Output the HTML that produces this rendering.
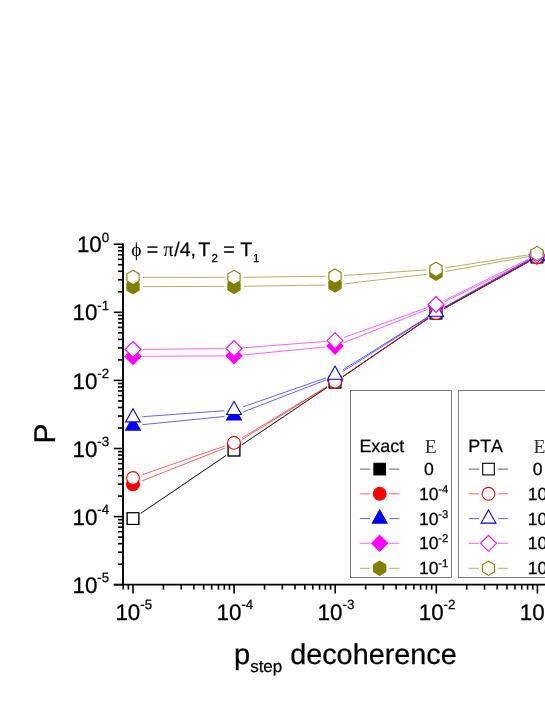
<!DOCTYPE html>
<html lang="en"><head><meta charset="utf-8"><title>chart</title>
<style>
html,body{margin:0;padding:0;background:#fff;}
body{width:545px;height:705px;overflow:hidden;}
svg{display:block;will-change:transform;}
.s{font-family:"Liberation Sans",sans-serif;fill:#000;text-rendering:geometricPrecision;font-kerning:none;stroke:#000;stroke-width:0.25px;}
.r{font-family:"Liberation Serif",serif;stroke:none;}
</style></head><body>
<svg width="545" height="705" viewBox="0 0 545 705">
<rect width="545" height="705" fill="#fff"/>
<line x1="140.86" y1="513.27" x2="226.14" y2="455.43" stroke="#000" stroke-width="0.62"/>
<line x1="241.88" y1="444.79" x2="327.12" y2="387.41" stroke="#000" stroke-width="0.62"/>
<line x1="342.84" y1="376.74" x2="428.16" y2="318.46" stroke="#000" stroke-width="0.62"/>
<line x1="444.30" y1="308.49" x2="528.70" y2="261.61" stroke="#000" stroke-width="0.62"/>
<rect x="127.20" y="512.80" width="11.60" height="11.60" stroke="#000" stroke-width="1.1" fill="#000"/>
<rect x="228.20" y="444.30" width="11.60" height="11.60" stroke="#000" stroke-width="1.1" fill="#000"/>
<rect x="329.20" y="376.30" width="11.60" height="11.60" stroke="#000" stroke-width="1.1" fill="#000"/>
<rect x="430.20" y="307.30" width="11.60" height="11.60" stroke="#000" stroke-width="1.1" fill="#000"/>
<rect x="531.20" y="251.20" width="11.60" height="11.60" stroke="#000" stroke-width="1.1" fill="#000"/>
<line x1="141.84" y1="480.91" x2="225.16" y2="447.99" stroke="#f00" stroke-width="0.62"/>
<line x1="242.08" y1="439.50" x2="326.92" y2="387.00" stroke="#f00" stroke-width="0.62"/>
<line x1="342.84" y1="376.64" x2="428.16" y2="318.36" stroke="#f00" stroke-width="0.62"/>
<line x1="444.31" y1="308.39" x2="528.69" y2="261.61" stroke="#f00" stroke-width="0.62"/>
<circle cx="133.00" cy="484.40" r="6.4" stroke="#f00" stroke-width="1.1" fill="#f00"/>
<circle cx="234.00" cy="444.50" r="6.4" stroke="#f00" stroke-width="1.1" fill="#f00"/>
<circle cx="335.00" cy="382.00" r="6.4" stroke="#f00" stroke-width="1.1" fill="#f00"/>
<circle cx="436.00" cy="313.00" r="6.4" stroke="#f00" stroke-width="1.1" fill="#f00"/>
<circle cx="537.00" cy="257.00" r="6.4" stroke="#f00" stroke-width="1.1" fill="#f00"/>
<line x1="142.45" y1="424.65" x2="224.55" y2="416.45" stroke="#00f" stroke-width="0.62"/>
<line x1="242.86" y1="412.08" x2="326.14" y2="379.92" stroke="#00f" stroke-width="0.62"/>
<line x1="343.02" y1="371.40" x2="427.98" y2="317.40" stroke="#00f" stroke-width="0.62"/>
<line x1="444.31" y1="307.69" x2="528.69" y2="260.91" stroke="#00f" stroke-width="0.62"/>
<polygon points="133.00,416.90 140.40,430.10 125.60,430.10" stroke="#00f" stroke-width="1.1" fill="#00f"/>
<polygon points="234.00,406.80 241.40,420.00 226.60,420.00" stroke="#00f" stroke-width="1.1" fill="#00f"/>
<polygon points="335.00,367.80 342.40,381.00 327.60,381.00" stroke="#00f" stroke-width="1.1" fill="#00f"/>
<polygon points="436.00,303.60 443.40,316.80 428.60,316.80" stroke="#00f" stroke-width="1.1" fill="#00f"/>
<polygon points="537.00,247.60 544.40,260.80 529.60,260.80" stroke="#00f" stroke-width="1.1" fill="#00f"/>
<line x1="142.50" y1="356.34" x2="224.50" y2="355.86" stroke="#f0f" stroke-width="0.62"/>
<line x1="243.46" y1="354.89" x2="325.54" y2="347.01" stroke="#f0f" stroke-width="0.62"/>
<line x1="343.83" y1="342.59" x2="427.17" y2="309.51" stroke="#f0f" stroke-width="0.62"/>
<line x1="444.53" y1="301.82" x2="528.47" y2="260.68" stroke="#f0f" stroke-width="0.62"/>
<polygon points="133.00,348.40 141.00,356.40 133.00,364.40 125.00,356.40" stroke="#f0f" stroke-width="1.1" fill="#f0f"/>
<polygon points="234.00,347.80 242.00,355.80 234.00,363.80 226.00,355.80" stroke="#f0f" stroke-width="1.1" fill="#f0f"/>
<polygon points="335.00,338.10 343.00,346.10 335.00,354.10 327.00,346.10" stroke="#f0f" stroke-width="1.1" fill="#f0f"/>
<polygon points="436.00,298.00 444.00,306.00 436.00,314.00 428.00,306.00" stroke="#f0f" stroke-width="1.1" fill="#f0f"/>
<polygon points="537.00,248.50 545.00,256.50 537.00,264.50 529.00,256.50" stroke="#f0f" stroke-width="1.1" fill="#f0f"/>
<line x1="142.50" y1="286.63" x2="224.50" y2="286.42" stroke="#808000" stroke-width="0.62"/>
<line x1="243.50" y1="286.26" x2="325.50" y2="285.04" stroke="#808000" stroke-width="0.62"/>
<line x1="344.44" y1="283.81" x2="426.56" y2="274.29" stroke="#808000" stroke-width="0.62"/>
<line x1="445.35" y1="271.52" x2="527.65" y2="256.68" stroke="#808000" stroke-width="0.62"/>
<polygon points="133.00,279.55 139.10,283.15 139.10,290.15 133.00,293.75 126.90,290.15 126.90,283.15" stroke="#808000" stroke-width="1.1" fill="#808000"/>
<polygon points="234.00,279.30 240.10,282.90 240.10,289.90 234.00,293.50 227.90,289.90 227.90,282.90" stroke="#808000" stroke-width="1.1" fill="#808000"/>
<polygon points="335.00,277.80 341.10,281.40 341.10,288.40 335.00,292.00 328.90,288.40 328.90,281.40" stroke="#808000" stroke-width="1.1" fill="#808000"/>
<polygon points="436.00,266.10 442.10,269.70 442.10,276.70 436.00,280.30 429.90,276.70 429.90,269.70" stroke="#808000" stroke-width="1.1" fill="#808000"/>
<polygon points="537.00,247.90 543.10,251.50 543.10,258.50 537.00,262.10 530.90,258.50 530.90,251.50" stroke="#808000" stroke-width="1.1" fill="#808000"/>
<line x1="140.86" y1="513.27" x2="226.14" y2="455.43" stroke="#000" stroke-width="0.62"/>
<line x1="241.88" y1="444.79" x2="327.12" y2="387.41" stroke="#000" stroke-width="0.62"/>
<line x1="342.84" y1="376.74" x2="428.16" y2="318.46" stroke="#000" stroke-width="0.62"/>
<line x1="444.30" y1="308.49" x2="528.70" y2="261.61" stroke="#000" stroke-width="0.62"/>
<rect x="127.20" y="512.80" width="11.60" height="11.60" stroke="#000" stroke-width="1.1" fill="#fff"/>
<rect x="228.20" y="444.30" width="11.60" height="11.60" stroke="#000" stroke-width="1.1" fill="#fff"/>
<rect x="329.20" y="376.30" width="11.60" height="11.60" stroke="#000" stroke-width="1.1" fill="#fff"/>
<rect x="430.20" y="307.30" width="11.60" height="11.60" stroke="#000" stroke-width="1.1" fill="#fff"/>
<rect x="531.20" y="251.20" width="11.60" height="11.60" stroke="#000" stroke-width="1.1" fill="#fff"/>
<line x1="141.97" y1="474.87" x2="225.03" y2="445.93" stroke="#f00" stroke-width="0.62"/>
<line x1="242.13" y1="437.88" x2="326.87" y2="386.62" stroke="#f00" stroke-width="0.62"/>
<line x1="342.86" y1="376.36" x2="428.14" y2="318.34" stroke="#f00" stroke-width="0.62"/>
<line x1="444.31" y1="308.39" x2="528.69" y2="261.61" stroke="#f00" stroke-width="0.62"/>
<circle cx="133.00" cy="478.00" r="6.4" stroke="#f00" stroke-width="1.1" fill="#fff"/>
<circle cx="234.00" cy="442.80" r="6.4" stroke="#f00" stroke-width="1.1" fill="#fff"/>
<circle cx="335.00" cy="381.70" r="6.4" stroke="#f00" stroke-width="1.1" fill="#fff"/>
<circle cx="436.00" cy="313.00" r="6.4" stroke="#f00" stroke-width="1.1" fill="#fff"/>
<circle cx="537.00" cy="257.00" r="6.4" stroke="#f00" stroke-width="1.1" fill="#fff"/>
<line x1="142.47" y1="416.71" x2="224.53" y2="410.69" stroke="#00f" stroke-width="0.62"/>
<line x1="242.97" y1="406.87" x2="326.03" y2="377.93" stroke="#00f" stroke-width="0.62"/>
<line x1="343.06" y1="369.77" x2="427.94" y2="316.83" stroke="#00f" stroke-width="0.62"/>
<line x1="444.29" y1="307.16" x2="528.71" y2="259.94" stroke="#00f" stroke-width="0.62"/>
<polygon points="133.00,408.70 140.40,421.90 125.60,421.90" stroke="#00f" stroke-width="1.1" fill="#fff"/>
<polygon points="234.00,401.30 241.40,414.50 226.60,414.50" stroke="#00f" stroke-width="1.1" fill="#fff"/>
<polygon points="335.00,366.10 342.40,379.30 327.60,379.30" stroke="#00f" stroke-width="1.1" fill="#fff"/>
<polygon points="436.00,303.10 443.40,316.30 428.60,316.30" stroke="#00f" stroke-width="1.1" fill="#fff"/>
<polygon points="537.00,246.60 544.40,259.80 529.60,259.80" stroke="#00f" stroke-width="1.1" fill="#fff"/>
<line x1="142.50" y1="349.41" x2="224.50" y2="348.59" stroke="#f0f" stroke-width="0.62"/>
<line x1="243.47" y1="347.77" x2="325.53" y2="341.43" stroke="#f0f" stroke-width="0.62"/>
<line x1="343.94" y1="337.49" x2="427.06" y2="307.71" stroke="#f0f" stroke-width="0.62"/>
<line x1="444.53" y1="300.32" x2="528.47" y2="259.18" stroke="#f0f" stroke-width="0.62"/>
<polygon points="133.00,341.50 141.00,349.50 133.00,357.50 125.00,349.50" stroke="#f0f" stroke-width="1.1" fill="#fff"/>
<polygon points="234.00,340.50 242.00,348.50 234.00,356.50 226.00,348.50" stroke="#f0f" stroke-width="1.1" fill="#fff"/>
<polygon points="335.00,332.70 343.00,340.70 335.00,348.70 327.00,340.70" stroke="#f0f" stroke-width="1.1" fill="#fff"/>
<polygon points="436.00,296.50 444.00,304.50 436.00,312.50 428.00,304.50" stroke="#f0f" stroke-width="1.1" fill="#fff"/>
<polygon points="537.00,247.00 545.00,255.00 537.00,263.00 529.00,255.00" stroke="#f0f" stroke-width="1.1" fill="#fff"/>
<line x1="142.50" y1="277.40" x2="224.50" y2="277.40" stroke="#808000" stroke-width="0.62"/>
<line x1="243.50" y1="277.28" x2="325.50" y2="276.22" stroke="#808000" stroke-width="0.62"/>
<line x1="344.48" y1="275.46" x2="426.52" y2="269.94" stroke="#808000" stroke-width="0.62"/>
<line x1="445.39" y1="267.83" x2="527.61" y2="254.97" stroke="#808000" stroke-width="0.62"/>
<polygon points="133.00,270.30 139.10,273.90 139.10,280.90 133.00,284.50 126.90,280.90 126.90,273.90" stroke="#808000" stroke-width="1.1" fill="#fff"/>
<polygon points="234.00,270.30 240.10,273.90 240.10,280.90 234.00,284.50 227.90,280.90 227.90,273.90" stroke="#808000" stroke-width="1.1" fill="#fff"/>
<polygon points="335.00,269.00 341.10,272.60 341.10,279.60 335.00,283.20 328.90,279.60 328.90,272.60" stroke="#808000" stroke-width="1.1" fill="#fff"/>
<polygon points="436.00,262.20 442.10,265.80 442.10,272.80 436.00,276.40 429.90,272.80 429.90,265.80" stroke="#808000" stroke-width="1.1" fill="#fff"/>
<polygon points="537.00,246.40 543.10,250.00 543.10,257.00 537.00,260.60 530.90,257.00 530.90,250.00" stroke="#808000" stroke-width="1.1" fill="#fff"/>
<rect x="350.5" y="390.5" width="101" height="187" fill="#fff" stroke="#7a7a7a" stroke-width="1"/>
<text x="359.43" y="452.40" font-size="17.9" class="s">Exact</text>
<text x="424.8" y="452.6" font-size="19.6" class="r" fill="#303030">E</text>
<line x1="360.00" y1="469.10" x2="370.20" y2="469.10" stroke="#000" stroke-width="0.62"/>
<line x1="389.20" y1="469.10" x2="399.40" y2="469.10" stroke="#000" stroke-width="0.62"/>
<rect x="373.90" y="463.30" width="11.60" height="11.60" stroke="#000" stroke-width="1.1" fill="#000"/>
<text x="424.0" y="475.1" font-size="17.6" class="s">0</text>
<line x1="360.00" y1="493.80" x2="370.20" y2="493.80" stroke="#f00" stroke-width="0.62"/>
<line x1="389.20" y1="493.80" x2="399.40" y2="493.80" stroke="#f00" stroke-width="0.62"/>
<circle cx="379.70" cy="493.80" r="6.4" stroke="#f00" stroke-width="1.1" fill="#f00"/>
<text x="418.9" y="499.8" font-size="17.6" class="s">10<tspan font-size="11.3" dy="-7.0" dx="-0.3">-4</tspan></text>
<line x1="360.00" y1="518.60" x2="370.20" y2="518.60" stroke="#00f" stroke-width="0.62"/>
<line x1="389.20" y1="518.60" x2="399.40" y2="518.60" stroke="#00f" stroke-width="0.62"/>
<polygon points="379.70,509.90 387.10,523.10 372.30,523.10" stroke="#00f" stroke-width="1.1" fill="#00f"/>
<text x="418.9" y="524.6" font-size="17.6" class="s">10<tspan font-size="11.3" dy="-7.0" dx="-0.3">-3</tspan></text>
<line x1="360.00" y1="543.30" x2="370.20" y2="543.30" stroke="#f0f" stroke-width="0.62"/>
<line x1="389.20" y1="543.30" x2="399.40" y2="543.30" stroke="#f0f" stroke-width="0.62"/>
<polygon points="379.70,535.30 387.70,543.30 379.70,551.30 371.70,543.30" stroke="#f0f" stroke-width="1.1" fill="#f0f"/>
<text x="418.9" y="549.3" font-size="17.6" class="s">10<tspan font-size="11.3" dy="-7.0" dx="-0.3">-2</tspan></text>
<line x1="360.00" y1="568.30" x2="370.20" y2="568.30" stroke="#808000" stroke-width="0.62"/>
<line x1="389.20" y1="568.30" x2="399.40" y2="568.30" stroke="#808000" stroke-width="0.62"/>
<polygon points="379.70,561.20 385.80,564.80 385.80,571.80 379.70,575.40 373.60,571.80 373.60,564.80" stroke="#808000" stroke-width="1.1" fill="#808000"/>
<text x="418.9" y="574.3" font-size="17.6" class="s">10<tspan font-size="11.3" dy="-7.0" dx="-0.3">-1</tspan></text>
<rect x="458.4" y="390.5" width="101" height="187" fill="#fff" stroke="#7a7a7a" stroke-width="1"/>
<text x="468.23" y="452.40" font-size="17.9" class="s">PTA</text>
<text x="533.6" y="452.6" font-size="19.6" class="r" fill="#303030">E</text>
<line x1="468.80" y1="469.10" x2="479.00" y2="469.10" stroke="#000" stroke-width="0.62"/>
<line x1="498.00" y1="469.10" x2="508.20" y2="469.10" stroke="#000" stroke-width="0.62"/>
<rect x="482.70" y="463.30" width="11.60" height="11.60" stroke="#000" stroke-width="1.1" fill="#fff"/>
<text x="532.8" y="475.1" font-size="17.6" class="s">0</text>
<line x1="468.80" y1="493.80" x2="479.00" y2="493.80" stroke="#f00" stroke-width="0.62"/>
<line x1="498.00" y1="493.80" x2="508.20" y2="493.80" stroke="#f00" stroke-width="0.62"/>
<circle cx="488.50" cy="493.80" r="6.4" stroke="#f00" stroke-width="1.1" fill="#fff"/>
<text x="527.7" y="499.8" font-size="17.6" class="s">10<tspan font-size="11.3" dy="-7.0" dx="-0.3">-4</tspan></text>
<line x1="468.80" y1="518.60" x2="479.00" y2="518.60" stroke="#00f" stroke-width="0.62"/>
<line x1="498.00" y1="518.60" x2="508.20" y2="518.60" stroke="#00f" stroke-width="0.62"/>
<polygon points="488.50,509.90 495.90,523.10 481.10,523.10" stroke="#00f" stroke-width="1.1" fill="#fff"/>
<text x="527.7" y="524.6" font-size="17.6" class="s">10<tspan font-size="11.3" dy="-7.0" dx="-0.3">-3</tspan></text>
<line x1="468.80" y1="543.30" x2="479.00" y2="543.30" stroke="#f0f" stroke-width="0.62"/>
<line x1="498.00" y1="543.30" x2="508.20" y2="543.30" stroke="#f0f" stroke-width="0.62"/>
<polygon points="488.50,535.30 496.50,543.30 488.50,551.30 480.50,543.30" stroke="#f0f" stroke-width="1.1" fill="#fff"/>
<text x="527.7" y="549.3" font-size="17.6" class="s">10<tspan font-size="11.3" dy="-7.0" dx="-0.3">-2</tspan></text>
<line x1="468.80" y1="568.30" x2="479.00" y2="568.30" stroke="#808000" stroke-width="0.62"/>
<line x1="498.00" y1="568.30" x2="508.20" y2="568.30" stroke="#808000" stroke-width="0.62"/>
<polygon points="488.50,561.20 494.60,564.80 494.60,571.80 488.50,575.40 482.40,571.80 482.40,564.80" stroke="#808000" stroke-width="1.1" fill="#fff"/>
<text x="527.7" y="574.3" font-size="17.6" class="s">10<tspan font-size="11.3" dy="-7.0" dx="-0.3">-1</tspan></text>
<line x1="123.00" y1="243.4" x2="123.00" y2="585.5" stroke="#000" stroke-width="1.9"/>
<line x1="113.8" y1="584.70" x2="545" y2="584.70" stroke="#000" stroke-width="1.7"/>
<line x1="113.8" y1="244.20" x2="123.00" y2="244.20" stroke="#000" stroke-width="1.6"/>
<line x1="118" y1="291.80" x2="123.00" y2="291.80" stroke="#000" stroke-width="1.6"/>
<line x1="118" y1="279.81" x2="123.00" y2="279.81" stroke="#000" stroke-width="1.6"/>
<line x1="118" y1="271.30" x2="123.00" y2="271.30" stroke="#000" stroke-width="1.6"/>
<line x1="118" y1="264.70" x2="123.00" y2="264.70" stroke="#000" stroke-width="1.6"/>
<line x1="118" y1="259.31" x2="123.00" y2="259.31" stroke="#000" stroke-width="1.6"/>
<line x1="118" y1="254.75" x2="123.00" y2="254.75" stroke="#000" stroke-width="1.6"/>
<line x1="118" y1="250.80" x2="123.00" y2="250.80" stroke="#000" stroke-width="1.6"/>
<line x1="118" y1="247.32" x2="123.00" y2="247.32" stroke="#000" stroke-width="1.6"/>
<line x1="113.8" y1="312.30" x2="123.00" y2="312.30" stroke="#000" stroke-width="1.6"/>
<line x1="118" y1="359.90" x2="123.00" y2="359.90" stroke="#000" stroke-width="1.6"/>
<line x1="118" y1="347.91" x2="123.00" y2="347.91" stroke="#000" stroke-width="1.6"/>
<line x1="118" y1="339.40" x2="123.00" y2="339.40" stroke="#000" stroke-width="1.6"/>
<line x1="118" y1="332.80" x2="123.00" y2="332.80" stroke="#000" stroke-width="1.6"/>
<line x1="118" y1="327.41" x2="123.00" y2="327.41" stroke="#000" stroke-width="1.6"/>
<line x1="118" y1="322.85" x2="123.00" y2="322.85" stroke="#000" stroke-width="1.6"/>
<line x1="118" y1="318.90" x2="123.00" y2="318.90" stroke="#000" stroke-width="1.6"/>
<line x1="118" y1="315.42" x2="123.00" y2="315.42" stroke="#000" stroke-width="1.6"/>
<line x1="113.8" y1="380.40" x2="123.00" y2="380.40" stroke="#000" stroke-width="1.6"/>
<line x1="118" y1="428.00" x2="123.00" y2="428.00" stroke="#000" stroke-width="1.6"/>
<line x1="118" y1="416.01" x2="123.00" y2="416.01" stroke="#000" stroke-width="1.6"/>
<line x1="118" y1="407.50" x2="123.00" y2="407.50" stroke="#000" stroke-width="1.6"/>
<line x1="118" y1="400.90" x2="123.00" y2="400.90" stroke="#000" stroke-width="1.6"/>
<line x1="118" y1="395.51" x2="123.00" y2="395.51" stroke="#000" stroke-width="1.6"/>
<line x1="118" y1="390.95" x2="123.00" y2="390.95" stroke="#000" stroke-width="1.6"/>
<line x1="118" y1="387.00" x2="123.00" y2="387.00" stroke="#000" stroke-width="1.6"/>
<line x1="118" y1="383.52" x2="123.00" y2="383.52" stroke="#000" stroke-width="1.6"/>
<line x1="113.8" y1="448.50" x2="123.00" y2="448.50" stroke="#000" stroke-width="1.6"/>
<line x1="118" y1="496.10" x2="123.00" y2="496.10" stroke="#000" stroke-width="1.6"/>
<line x1="118" y1="484.11" x2="123.00" y2="484.11" stroke="#000" stroke-width="1.6"/>
<line x1="118" y1="475.60" x2="123.00" y2="475.60" stroke="#000" stroke-width="1.6"/>
<line x1="118" y1="469.00" x2="123.00" y2="469.00" stroke="#000" stroke-width="1.6"/>
<line x1="118" y1="463.61" x2="123.00" y2="463.61" stroke="#000" stroke-width="1.6"/>
<line x1="118" y1="459.05" x2="123.00" y2="459.05" stroke="#000" stroke-width="1.6"/>
<line x1="118" y1="455.10" x2="123.00" y2="455.10" stroke="#000" stroke-width="1.6"/>
<line x1="118" y1="451.62" x2="123.00" y2="451.62" stroke="#000" stroke-width="1.6"/>
<line x1="113.8" y1="516.60" x2="123.00" y2="516.60" stroke="#000" stroke-width="1.6"/>
<line x1="118" y1="564.20" x2="123.00" y2="564.20" stroke="#000" stroke-width="1.6"/>
<line x1="118" y1="552.21" x2="123.00" y2="552.21" stroke="#000" stroke-width="1.6"/>
<line x1="118" y1="543.70" x2="123.00" y2="543.70" stroke="#000" stroke-width="1.6"/>
<line x1="118" y1="537.10" x2="123.00" y2="537.10" stroke="#000" stroke-width="1.6"/>
<line x1="118" y1="531.71" x2="123.00" y2="531.71" stroke="#000" stroke-width="1.6"/>
<line x1="118" y1="527.15" x2="123.00" y2="527.15" stroke="#000" stroke-width="1.6"/>
<line x1="118" y1="523.20" x2="123.00" y2="523.20" stroke="#000" stroke-width="1.6"/>
<line x1="118" y1="519.72" x2="123.00" y2="519.72" stroke="#000" stroke-width="1.6"/>
<line x1="113.8" y1="584.70" x2="123.00" y2="584.70" stroke="#000" stroke-width="1.6"/>
<line x1="133.00" y1="584.70" x2="133.00" y2="593.6" stroke="#000" stroke-width="1.6"/>
<line x1="234.10" y1="584.70" x2="234.10" y2="593.6" stroke="#000" stroke-width="1.6"/>
<line x1="335.20" y1="584.70" x2="335.20" y2="593.6" stroke="#000" stroke-width="1.6"/>
<line x1="436.30" y1="584.70" x2="436.30" y2="593.6" stroke="#000" stroke-width="1.6"/>
<line x1="537.40" y1="584.70" x2="537.40" y2="593.6" stroke="#000" stroke-width="1.6"/>
<line x1="123.20" y1="584.70" x2="123.20" y2="589.6" stroke="#000" stroke-width="1.6"/>
<line x1="128.37" y1="584.70" x2="128.37" y2="589.6" stroke="#000" stroke-width="1.6"/>
<line x1="163.43" y1="584.70" x2="163.43" y2="589.6" stroke="#000" stroke-width="1.6"/>
<line x1="181.24" y1="584.70" x2="181.24" y2="589.6" stroke="#000" stroke-width="1.6"/>
<line x1="193.87" y1="584.70" x2="193.87" y2="589.6" stroke="#000" stroke-width="1.6"/>
<line x1="203.67" y1="584.70" x2="203.67" y2="589.6" stroke="#000" stroke-width="1.6"/>
<line x1="211.67" y1="584.70" x2="211.67" y2="589.6" stroke="#000" stroke-width="1.6"/>
<line x1="218.44" y1="584.70" x2="218.44" y2="589.6" stroke="#000" stroke-width="1.6"/>
<line x1="224.30" y1="584.70" x2="224.30" y2="589.6" stroke="#000" stroke-width="1.6"/>
<line x1="229.47" y1="584.70" x2="229.47" y2="589.6" stroke="#000" stroke-width="1.6"/>
<line x1="264.53" y1="584.70" x2="264.53" y2="589.6" stroke="#000" stroke-width="1.6"/>
<line x1="282.34" y1="584.70" x2="282.34" y2="589.6" stroke="#000" stroke-width="1.6"/>
<line x1="294.97" y1="584.70" x2="294.97" y2="589.6" stroke="#000" stroke-width="1.6"/>
<line x1="304.77" y1="584.70" x2="304.77" y2="589.6" stroke="#000" stroke-width="1.6"/>
<line x1="312.77" y1="584.70" x2="312.77" y2="589.6" stroke="#000" stroke-width="1.6"/>
<line x1="319.54" y1="584.70" x2="319.54" y2="589.6" stroke="#000" stroke-width="1.6"/>
<line x1="325.40" y1="584.70" x2="325.40" y2="589.6" stroke="#000" stroke-width="1.6"/>
<line x1="330.57" y1="584.70" x2="330.57" y2="589.6" stroke="#000" stroke-width="1.6"/>
<line x1="365.63" y1="584.70" x2="365.63" y2="589.6" stroke="#000" stroke-width="1.6"/>
<line x1="383.44" y1="584.70" x2="383.44" y2="589.6" stroke="#000" stroke-width="1.6"/>
<line x1="396.07" y1="584.70" x2="396.07" y2="589.6" stroke="#000" stroke-width="1.6"/>
<line x1="405.87" y1="584.70" x2="405.87" y2="589.6" stroke="#000" stroke-width="1.6"/>
<line x1="413.87" y1="584.70" x2="413.87" y2="589.6" stroke="#000" stroke-width="1.6"/>
<line x1="420.64" y1="584.70" x2="420.64" y2="589.6" stroke="#000" stroke-width="1.6"/>
<line x1="426.50" y1="584.70" x2="426.50" y2="589.6" stroke="#000" stroke-width="1.6"/>
<line x1="431.67" y1="584.70" x2="431.67" y2="589.6" stroke="#000" stroke-width="1.6"/>
<line x1="466.73" y1="584.70" x2="466.73" y2="589.6" stroke="#000" stroke-width="1.6"/>
<line x1="484.54" y1="584.70" x2="484.54" y2="589.6" stroke="#000" stroke-width="1.6"/>
<line x1="497.17" y1="584.70" x2="497.17" y2="589.6" stroke="#000" stroke-width="1.6"/>
<line x1="506.97" y1="584.70" x2="506.97" y2="589.6" stroke="#000" stroke-width="1.6"/>
<line x1="514.97" y1="584.70" x2="514.97" y2="589.6" stroke="#000" stroke-width="1.6"/>
<line x1="521.74" y1="584.70" x2="521.74" y2="589.6" stroke="#000" stroke-width="1.6"/>
<line x1="527.60" y1="584.70" x2="527.60" y2="589.6" stroke="#000" stroke-width="1.6"/>
<line x1="532.77" y1="584.70" x2="532.77" y2="589.6" stroke="#000" stroke-width="1.6"/>
<text x="109.2" y="252.3" font-size="22.4" class="s" text-anchor="end">10<tspan font-size="13.3" dy="-10.4">0</tspan></text>
<text x="109.2" y="320.4" font-size="22.4" class="s" text-anchor="end">10<tspan font-size="13.3" dy="-10.4">-1</tspan></text>
<text x="109.2" y="388.5" font-size="22.4" class="s" text-anchor="end">10<tspan font-size="13.3" dy="-10.4">-2</tspan></text>
<text x="109.2" y="456.6" font-size="22.4" class="s" text-anchor="end">10<tspan font-size="13.3" dy="-10.4">-3</tspan></text>
<text x="109.2" y="524.7" font-size="22.4" class="s" text-anchor="end">10<tspan font-size="13.3" dy="-10.4">-4</tspan></text>
<text x="109.2" y="592.8" font-size="22.4" class="s" text-anchor="end">10<tspan font-size="13.3" dy="-10.4">-5</tspan></text>
<text x="115.4" y="619.8" font-size="22.4" class="s">10<tspan font-size="13.3" dy="-10.4">-5</tspan></text>
<text x="216.5" y="619.8" font-size="22.4" class="s">10<tspan font-size="13.3" dy="-10.4">-4</tspan></text>
<text x="317.6" y="619.8" font-size="22.4" class="s">10<tspan font-size="13.3" dy="-10.4">-3</tspan></text>
<text x="418.7" y="619.8" font-size="22.4" class="s">10<tspan font-size="13.3" dy="-10.4">-2</tspan></text>
<text x="519.8" y="619.8" font-size="22.4" class="s">10<tspan font-size="13.3" dy="-10.4">-1</tspan></text>
<text transform="translate(54.5,443.6) rotate(-90)" font-size="30" class="s">P</text>
<text x="234" y="663.5" font-size="29" class="s">p<tspan font-size="17" dy="8.8">step</tspan></text>
<text x="290.2" y="663.5" font-size="28.8" class="s">decoherence</text>
<text x="131.24" y="256.20" font-size="19.5" class="s r">ϕ</text>
<text x="146.64" y="256.20" font-size="19.6" class="s">=</text>
<text x="163.22" y="256.20" font-size="20.5" class="s r">π</text>
<text x="174.20" y="256.20" font-size="19.6" class="s">/4,</text>
<text x="198.36" y="256.20" font-size="19.6" class="s">T</text>
<text x="211.62" y="262.40" font-size="11.5" class="s">2</text>
<text x="223.14" y="256.20" font-size="19.6" class="s">=</text>
<text x="240.16" y="256.20" font-size="19.6" class="s">T</text>
<text x="253.02" y="262.40" font-size="11.5" class="s">1</text>
</svg>
</body></html>
